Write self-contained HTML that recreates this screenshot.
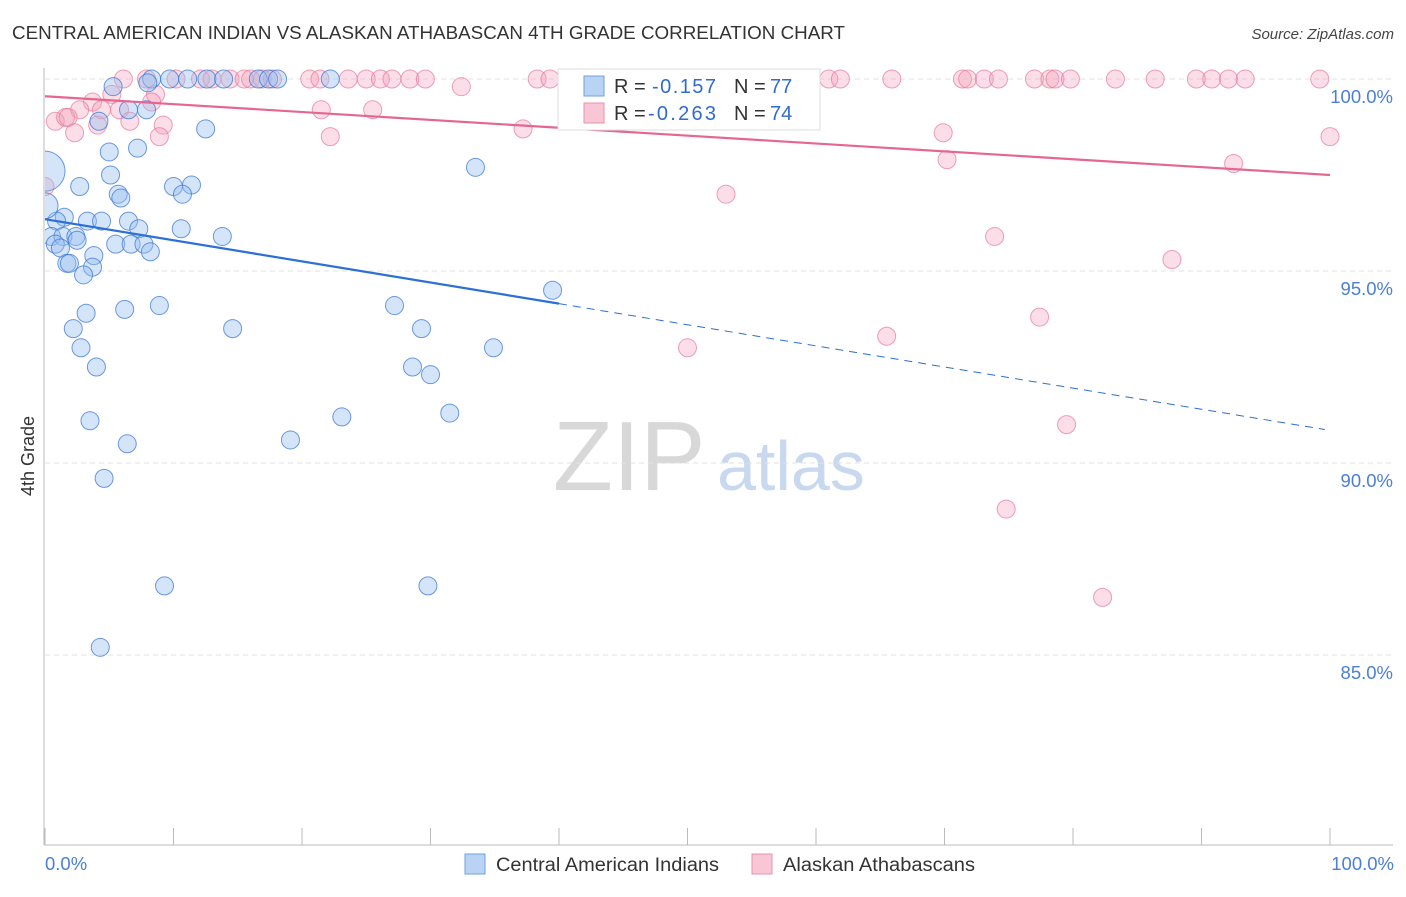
<!DOCTYPE html>
<html><head><meta charset="utf-8"><style>
body{margin:0;background:#fff;font-family:"Liberation Sans",sans-serif}
svg text{font-family:"Liberation Sans",sans-serif}
</style></head><body>
<svg id="c" width="1406" height="892" xmlns="http://www.w3.org/2000/svg">
<defs><clipPath id="pc"><rect x="45" y="55" width="1360" height="790"/></clipPath></defs>
<text x="12" y="39" font-size="18" fill="#333" textLength="833" lengthAdjust="spacingAndGlyphs">CENTRAL AMERICAN INDIAN VS ALASKAN ATHABASCAN 4TH GRADE CORRELATION CHART</text>
<text x="1394" y="39" font-size="15" fill="#444" font-style="italic" text-anchor="end">Source: ZipAtlas.com</text>
<text x="553" y="490" font-size="98" fill="#d8d8d8" font-family="Liberation Serif">ZIP</text>
<text x="717" y="490" font-size="70" fill="#c8d8ee">atlas</text>
<g id="grid"></g>
<g id="pts" clip-path="url(#pc)"></g>
<g id="lines"></g>
<text transform="translate(34,456) rotate(-90)" font-size="18" fill="#333" text-anchor="middle">4th Grade</text>
<text x="45" y="870" font-size="18.5" fill="#4a7fd4">0.0%</text>
<text x="1394" y="870" font-size="18.5" fill="#4a7fd4" text-anchor="end">100.0%</text>
<g>
<rect x="558" y="69" width="262" height="61" fill="#fff" stroke="#ddd"/>
<rect x="584" y="76" width="20" height="20" fill="#b9d3f5" stroke="#6f9fe0"/>
<rect x="584" y="103" width="20" height="20" fill="#f9c6d5" stroke="#eb91ae"/>
<text x="614" y="93" font-size="20" fill="#333">R =</text>
<text x="652" y="93" font-size="20" fill="#2f6bd1" textLength="64">-0.157</text>
<text x="734" y="93" font-size="20" fill="#333">N =</text>
<text x="770" y="93" font-size="20" fill="#2f6bd1">77</text>
<text x="614" y="120" font-size="20" fill="#333">R =</text>
<text x="648" y="120" font-size="20" fill="#2f6bd1" textLength="68">-0.263</text>
<text x="734" y="120" font-size="20" fill="#333">N =</text>
<text x="770" y="120" font-size="20" fill="#2f6bd1">74</text>
</g>
<g>
<rect x="465" y="854" width="20" height="20" fill="#b9d3f5" stroke="#6f9fe0"/>
<text x="496" y="871" font-size="19" fill="#333" textLength="223" lengthAdjust="spacingAndGlyphs">Central American Indians</text></g>
<g>
<rect x="752" y="854" width="20" height="20" fill="#f9c6d5" stroke="#eb91ae"/>
<text x="783" y="871" font-size="19" fill="#333" textLength="192" lengthAdjust="spacingAndGlyphs">Alaskan Athabascans</text></g>
</svg>
<script>
const blueX=[8.3,9.7,11.1,12.6,13.9,16.6,17.4,18.1,22.2,5.3,8.0,6.5,7.9,4.2,12.5,5.0,7.2,33.5,5.1,2.7,10.0,11.4,5.7,5.9,10.7,1.5,0.9,3.3,4.4,6.5,7.3,10.6,13.8,0.5,1.4,2.4,2.5,0.8,1.2,5.5,6.7,7.7,8.2,3.8,1.7,1.9,3.7,3.0,39.5,6.2,8.9,3.2,27.2,2.2,14.6,29.3,2.8,34.9,4.0,28.6,30.0,3.5,23.1,31.5,6.4,19.1,4.6,9.3,29.8,4.3,0,0];
const blueY=[100,100,100,100,100,100,100,100,100,99.8,99.9,99.2,99.2,98.9,98.7,98.1,98.2,97.7,97.5,97.2,97.2,97.24,97.0,96.9,97.0,96.4,96.3,96.3,96.3,96.3,96.1,96.1,95.9,95.9,95.9,95.9,95.8,95.7,95.6,95.7,95.7,95.7,95.5,95.4,95.2,95.2,95.1,94.9,94.5,94.0,94.1,93.9,94.1,93.5,93.5,93.5,93.0,93.0,92.5,92.5,92.3,91.1,91.2,91.3,90.5,90.6,89.6,86.8,86.8,85.2,97.6,96.7];
const blueR=[9,9,9,9,9,9,9,9,9,9,9,9,9,9,9,9,9,9,9,9,9,9,9,9,9,9,9,9,9,9,9,9,9,9,9,9,9,9,9,9,9,9,9,9,9,9,9,9,9,9,9,9,9,9,9,9,9,9,9,9,9,9,9,9,9,9,9,9,9,9,20,13];
const pinkX=[6.1,7.9,10.2,12.1,13.0,14.4,15.5,16.0,16.9,17.7,20.6,21.4,23.6,25.0,26.1,27.0,28.4,29.6,38.3,39.3,41.5,61.0,61.9,65.9,71.4,71.8,73.1,74.2,77.0,78.2,78.6,79.8,83.3,86.4,89.6,90.8,92.1,93.4,99.2,32.4,5.2,8.6,3.7,2.7,4.4,5.8,8.3,21.5,25.5,0.8,1.6,1.8,6.6,4.1,2.3,9.2,8.9,22.2,37.2,69.9,100,70.2,92.5,0,53.0,73.9,87.7,65.5,50.0,77.4,79.5,74.8,82.3];
const pinkY=[100,100,100,100,100,100,100,100,100,100,100,100,100,100,100,100,100,100,100,100,100,100,100,100,100,100,100,100,100,100,100,100,100,100,100,100,100,100,100,99.8,99.6,99.6,99.4,99.2,99.2,99.2,99.4,99.2,99.2,98.9,99.0,99.0,98.9,98.8,98.6,98.8,98.5,98.5,98.7,98.6,98.5,97.9,97.8,97.2,97.0,95.9,95.3,93.3,93.0,93.8,91.0,88.8,86.5];
const yTicks=[100,95,90,85];
const xTicks=[0,10,20,30,40,50,60,70,80,90,100];
const blueTrend=[96.35,90.85], pinkTrend=[99.55,97.5];
const X=v=>45+v*12.85, Y=v=>79+(100-v)*38.4;
const NS='http://www.w3.org/2000/svg';
function mk(t,a,p){const e=document.createElementNS(NS,t);for(const k in a)e.setAttribute(k,a[k]);p.appendChild(e);return e;}
const grid=document.getElementById('grid');
yTicks.forEach(v=>{
 const l=mk('line',{x1:45,x2:1393,y1:Y(v),y2:Y(v),stroke:'#e2e2e2','stroke-dasharray':'5,4'},grid);
 
 
 const t=mk('text',{x:1393,y:Y(v)+24,'font-size':18.5,fill:'#4a7fd4','text-anchor':'end'},grid);
 t.textContent=v.toFixed(1)+'%';
 
 
});
mk('line',{x1:44,x2:44,y1:68,y2:845,stroke:'#bbb'},grid);
mk('line',{x1:44,x2:1393,y1:845,y2:845,stroke:'#bbb'},grid);
xTicks.forEach(v=>{
 const l=mk('line',{x1:X(v),x2:X(v),y1:828,y2:845,stroke:'#bbb'},grid);
 
 
});
const pts=document.getElementById('pts');
pinkX.forEach((x,i)=>{
 const c=mk('circle',{cx:X(x),cy:Y(pinkY[i]),r:9,fill:'rgba(244,160,185,0.35)',stroke:'rgba(232,120,155,0.7)','stroke-width':1},pts);
 
 
});
blueX.forEach((x,i)=>{
 const c=mk('circle',{cx:X(x),cy:Y(blueY[i]),r:blueR[i],fill:'rgba(150,190,240,0.4)',stroke:'rgba(60,120,215,0.75)','stroke-width':1},pts);
 
 
});
const ln=document.getElementById('lines');
const by=x=>blueTrend[0]+(blueTrend[1]-blueTrend[0])*x/100;
let a=mk('line',{x1:X(0),y1:Y(by(0)),x2:X(40),y2:Y(by(40)),stroke:'#2c6fd6','stroke-width':2.2},ln);


a=mk('line',{x1:X(40),y1:Y(by(40)),x2:X(99.6),y2:Y(by(99.6)),stroke:'#2c6fd6','stroke-width':1,'stroke-dasharray':'8,6'},ln);


a=mk('line',{x1:X(0),y1:Y(pinkTrend[0]),x2:X(100),y2:Y(pinkTrend[1]),stroke:'#e56690','stroke-width':2.2},ln);


</script>
</body></html>
